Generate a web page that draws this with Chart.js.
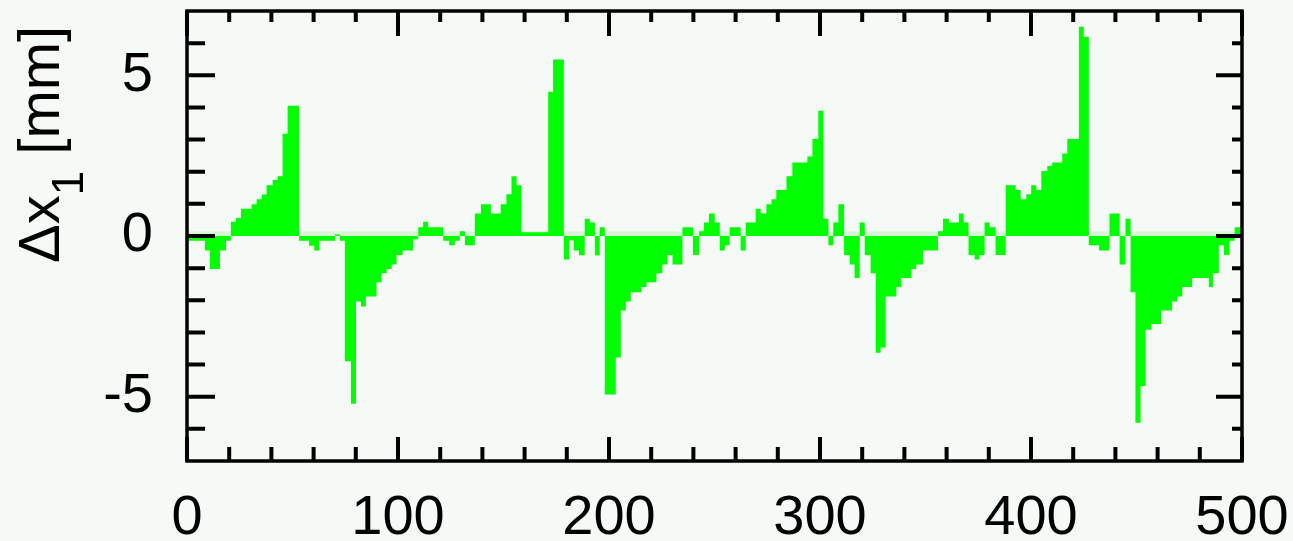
<!DOCTYPE html>
<html>
<head>
<meta charset="utf-8">
<script src="https://cdn.jsdelivr.net/npm/chart.js@4.4.0/dist/chart.umd.min.js"></script>
<style>
  html, body { margin: 0; padding: 0; background: #f5faf6; }
  canvas { display: block; }
</style>
</head>
<body>
<canvas id="orbitChart" width="1293" height="541"></canvas>
<script>
// element index where each level starts, and the level (mm)
const stepStart = [
  0, 8.5, 10.9, 15.6, 18.5, 20.8, 23.2, 25.6, 30.6, 33.0,
  35.4, 37.7, 40.6, 42.9, 45.3, 47.7, 53.1, 57.9, 60.3, 62.7,
  70.1, 72.5, 74.8, 77.7, 80.1, 82.4, 84.8, 89.8, 92.2, 94.6,
  97.0, 99.3, 102.2, 107.2, 109.6, 111.9, 114.3, 121.4, 124.3, 126.9,
  129.3, 131.7, 136.4, 139.3, 144.0, 148.7, 151.4, 153.8, 156.2, 158.5,
  171.2, 173.5, 178.6, 181.1, 183.3, 185.8, 188.5, 190.9, 193.3, 195.6,
  198.0, 203.2, 205.6, 208.0, 210.3, 215.4, 217.8, 222.5, 225.3, 227.7,
  230.1, 234.8, 239.8, 242.7, 245.0, 247.4, 250.1, 252.5, 254.9, 257.2,
  262.4, 264.8, 269.5, 271.9, 274.6, 277.0, 279.3, 284.1, 286.9, 294.0,
  296.4, 299.2, 301.6, 304.0, 306.3, 308.7, 311.4, 314.1, 316.4, 318.8,
  321.2, 324.0, 326.4, 328.7, 331.1, 336.2, 338.5, 343.3, 345.6, 348.8,
  355.9, 358.3, 361.1, 365.8, 368.1, 370.4, 373.3, 375.6, 378.0, 380.4,
  383.2, 388.0, 392.7, 395.1, 397.8, 400.1, 402.5, 404.9, 407.7, 410.1,
  414.8, 417.2, 422.7, 425.0, 427.4, 432.2, 437.2, 442.0, 444.8, 447.2,
  449.5, 451.9, 454.3, 457.0, 461.7, 466.9, 469.3, 471.7, 476.4, 484.3,
  486.2, 489.0, 491.4, 494.1, 496.5
];
const stepValue = [
  -0.15, -0.45, -1.03, -0.45, -0.15, 0.44, 0.56, 0.85, 0.99, 1.14,
  1.29, 1.58, 1.74, 1.86, 3.18, 4.05, -0.15, -0.3, -0.45, -0.15,
  0.05, -0.15, -3.9, -5.22, -2.04, -2.19, -1.88, -1.44, -1.16, -1.03,
  -0.89, -0.59, -0.45, -0.1, 0.27, 0.44, 0.27, -0.15, -0.29, -0.15,
  0.15, -0.29, 0.7, 0.99, 0.7, 0.99, 1.3, 1.86, 1.58, 0.12,
  4.49, 5.49, -0.73, -0.14, -0.45, -0.6, 0.54, 0.42, -0.6, 0.27,
  -4.93, -3.78, -2.32, -2.04, -1.75, -1.59, -1.44, -1.16, -0.89, -0.59,
  -0.89, 0.27, -0.59, 0.15, 0.42, 0.7, 0.42, -0.45, -0.29, 0.27,
  -0.45, 0.42, 0.85, 0.7, 0.99, 1.14, 1.43, 1.86, 2.29, 2.47,
  3.02, 3.9, 0.54, -0.29, 0.42, 0.99, -0.59, -0.89, -1.31, 0.42,
  -0.59, -1.16, -3.63, -3.47, -1.88, -1.59, -1.31, -1.03, -0.89, -0.45,
  0.15, 0.54, 0.42, 0.7, 0.42, -0.59, -0.73, -0.59, 0.42, 0.27,
  -0.59, 1.58, 1.43, 1.14, 1.3, 1.58, 1.43, 2.02, 2.18, 2.29,
  2.57, 3.02, 6.51, 6.2, -0.29, -0.45, 0.7, -0.89, 0.54, -1.75,
  -5.81, -4.67, -2.92, -2.74, -2.32, -2.04, -1.88, -1.59, -1.31, -1.59,
  -1.16, -0.29, -0.59, -0.15, 0.27
];
const xEnd = 500;
const yTicks = [-5, 0, 5];
const yTitleMain = "\u0394x";
const yTitleSub = "1";
const yTitleUnit = " [mm]";

const FONT = '"Liberation Sans", Arial, Helvetica, sans-serif';

// each level holds until the next start, last one runs to the end
const points = stepStart.map((x, i) => ({ x: x, y: stepValue[i] }));
points.push({ x: xEnd, y: stepValue[stepValue.length - 1] });

// page background
const background = {
  id: 'background',
  beforeDraw(chart) {
    const ctx = chart.ctx;
    ctx.save();
    ctx.fillStyle = '#f5faf6';
    ctx.fillRect(0, 0, chart.width, chart.height);
    ctx.restore();
  }
};

// faint band on the zero row, under the fill
const zeroBand = {
  id: 'zeroBand',
  beforeDatasetsDraw(chart) {
    const { ctx, chartArea: a, scales: { y } } = chart;
    const y0 = y.getPixelForValue(0);
    ctx.save();
    ctx.fillStyle = '#d6f6d6';
    ctx.fillRect(a.left, y0 - 4.5, a.right - a.left, 4.5);
    ctx.restore();
  }
};

// frame with inward ticks on all four sides
const frame = {
  id: 'frame',
  afterDraw(chart) {
    const { ctx, chartArea: a, scales: { x, y } } = chart;
    ctx.save();
    ctx.strokeStyle = '#000';
    ctx.lineWidth = 4;
    ctx.beginPath();
    for (let v = 0; v <= 500; v += 20) {
      const px = x.getPixelForValue(v);
      const major = v % 100 === 0;
      ctx.moveTo(px, a.top);
      ctx.lineTo(px, a.top + (major ? 25 : 11));
      ctx.moveTo(px, a.bottom);
      ctx.lineTo(px, a.bottom - (major ? 24 : 14));
    }
    for (let v = -6; v <= 6; v++) {
      const py = y.getPixelForValue(v);
      const major = v % 5 === 0;
      ctx.moveTo(a.left, py);
      ctx.lineTo(a.left + (major ? 28 : 18), py);
      ctx.moveTo(a.right, py);
      ctx.lineTo(a.right - (major ? 26 : 10), py);
    }
    ctx.stroke();
    ctx.lineWidth = 3.5;
    ctx.strokeRect(a.left, a.top, a.right - a.left, a.bottom - a.top);
    ctx.restore();
  }
};

// rotated y title with a subscript
const yTitle = {
  id: 'yTitle',
  afterDraw(chart) {
    const ctx = chart.ctx;
    ctx.save();
    ctx.translate(59, 263);
    ctx.rotate(-Math.PI / 2);
    ctx.fillStyle = '#000';
    ctx.textBaseline = 'alphabetic';
    ctx.textAlign = 'left';
    let cx = 0;
    ctx.font = '58px ' + FONT;
    ctx.fillText(yTitleMain, cx, 0);
    cx += ctx.measureText(yTitleMain).width;
    ctx.font = '44px ' + FONT;
    ctx.fillText(yTitleSub, cx, 24);
    cx += ctx.measureText(yTitleSub).width;
    ctx.font = '58px ' + FONT;
    ctx.fillText(yTitleUnit, cx, 0);
    ctx.restore();
  }
};

new Chart(document.getElementById('orbitChart'), {
  type: 'line',
  data: {
    datasets: [{
      data: points,
      stepped: 'before',
      fill: 'origin',
      backgroundColor: '#00ff00',
      borderColor: 'rgba(0,0,0,0)',
      borderWidth: 0,
      pointRadius: 0
    }]
  },
  options: {
    responsive: false,
    animation: false,
    devicePixelRatio: 1,
    layout: { padding: { top: 11, right: 51, left: 0, bottom: 0 } },
    plugins: { legend: { display: false }, tooltip: { enabled: false } },
    scales: {
      x: {
        type: 'linear',
        min: 0,
        max: xEnd,
        grid: { display: false, drawTicks: false },
        border: { display: false },
        ticks: {
          stepSize: 100,
          color: '#000',
          font: { size: 56, family: FONT },
          padding: 24,
          maxRotation: 0,
          autoSkip: false
        },
        afterFit(s) {
          s.height = 80;
          s.paddingLeft = 0;
          s.paddingRight = 0;
        }
      },
      y: {
        min: -7,
        max: 7,
        grid: { display: false, drawTicks: false },
        border: { display: false },
        ticks: {
          color: '#000',
          font: { size: 56, family: FONT },
          padding: 34
        },
        afterBuildTicks(s) { s.ticks = yTicks.map(v => ({ value: v })); },
        afterFit(s) {
          s.width = 187;
          s.paddingTop = 0;
          s.paddingBottom = 0;
        }
      }
    }
  },
  plugins: [background, zeroBand, frame, yTitle]
});
</script>
</body>
</html>
